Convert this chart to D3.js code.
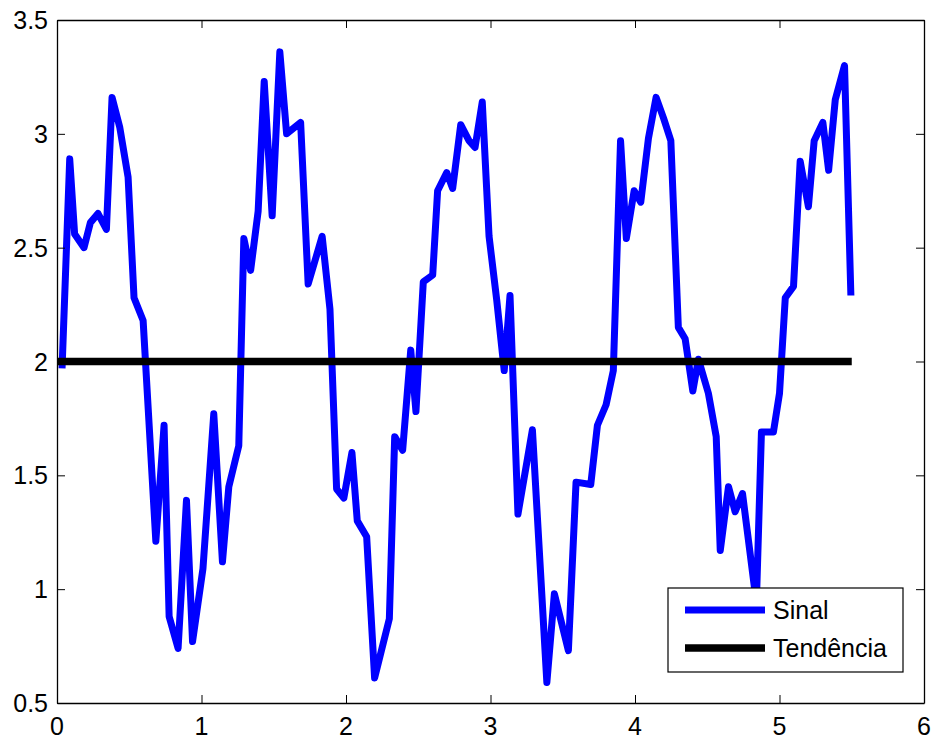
<!DOCTYPE html>
<html>
<head>
<meta charset="utf-8">
<script src="https://cdnjs.cloudflare.com/ajax/libs/d3/7.8.5/d3.min.js"></script>
<style>
    body { margin: 0; background: #fff; }
    svg { display: block; font-family: "Liberation Sans", Arial, sans-serif; }
    .tickLabel { font-size: 25px; fill: #000; }
    .legendText { font-size: 25px; fill: #000; }
</style>
</head>
<body>
<div id="chart"></div>
<script>
    "use strict";

    // signal samples
    var sinalX = [0.035, 0.088, 0.122, 0.187, 0.231, 0.284, 0.342, 0.381, 0.434, 0.492,
        0.533, 0.596, 0.684, 0.741, 0.776, 0.838, 0.896, 0.938, 1.01, 1.085,
        1.145, 1.189, 1.258, 1.293, 1.34, 1.392, 1.434, 1.489, 1.542, 1.589,
        1.686, 1.738, 1.835, 1.889, 1.935, 1.985, 2.041, 2.078, 2.143, 2.198,
        2.30, 2.337, 2.392, 2.448, 2.484, 2.535, 2.60, 2.634, 2.697, 2.738,
        2.794, 2.851, 2.893, 2.943, 2.99, 3.043, 3.095, 3.135, 3.19, 3.29,
        3.39, 3.442, 3.539, 3.592, 3.694, 3.74, 3.80, 3.85, 3.90, 3.94,
        3.994, 4.04, 4.093, 4.146, 4.197, 4.248, 4.30, 4.347, 4.40, 4.439,
        4.508, 4.562, 4.59, 4.647, 4.693, 4.744, 4.84, 4.875, 4.958, 5.0,
        5.04, 5.097, 5.143, 5.20, 5.24, 5.30, 5.34, 5.386, 5.45, 5.494];
    var sinalY = [1.97, 2.89, 2.56, 2.50, 2.61, 2.65, 2.58, 3.16, 3.03, 2.81,
        2.28, 2.18, 1.21, 1.72, 0.88, 0.74, 1.39, 0.77, 1.09, 1.77,
        1.12, 1.45, 1.63, 2.54, 2.40, 2.66, 3.23, 2.64, 3.36, 3.00,
        3.05, 2.34, 2.55, 2.23, 1.44, 1.40, 1.60, 1.30, 1.23, 0.61,
        0.87, 1.67, 1.61, 2.05, 1.78, 2.35, 2.38, 2.75, 2.83, 2.76,
        3.04, 2.97, 2.94, 3.14, 2.55, 2.27, 1.96, 2.29, 1.33, 1.70,
        0.59, 0.98, 0.73, 1.47, 1.46, 1.72, 1.81, 1.96, 2.97, 2.54,
        2.75, 2.70, 2.98, 3.16, 3.07, 2.97, 2.15, 2.10, 1.87, 2.01,
        1.86, 1.67, 1.17, 1.45, 1.34, 1.42, 0.94, 1.69, 1.69, 1.86,
        2.28, 2.33, 2.88, 2.68, 2.97, 3.05, 2.84, 3.15, 3.30, 2.29];

    var tendenciaX = [0, 5.5];
    var tendenciaY = [2, 2];

    var xTicks = [0, 1, 2, 3, 4, 5, 6];
    var yTicks = [0.5, 1, 1.5, 2, 2.5, 3, 3.5];
    var legendLabels = ["Sinal", "Tendência"];

    var width = 937;
    var height = 743;
    var marginLeft = 57, marginRight = 924, marginTop = 20, marginBottom = 703;
    var tickLen = 8;

    var x = d3.scaleLinear().domain([0, 6]).range([marginLeft, marginRight]);
    var y = d3.scaleLinear().domain([0.5, 3.5]).range([marginBottom, marginTop]);

    var svg = d3.select("#chart").append("svg")
        .attr("width", width)
        .attr("height", height);

    svg.append("defs").append("clipPath")
        .attr("id", "plotClip")
        .append("rect")
        .attr("x", marginLeft).attr("y", marginTop)
        .attr("width", marginRight - marginLeft).attr("height", marginBottom - marginTop);

    var sinal = sinalX.map(function (d, i) { return [d, sinalY[i]]; });
    var tendencia = tendenciaX.map(function (d, i) { return [d, tendenciaY[i]]; });

    var line = d3.line()
        .x(function (d) { return x(d[0]); })
        .y(function (d) { return y(d[1]); });

    var plot = svg.append("g").attr("clip-path", "url(#plotClip)");

    plot.append("path")
        .datum(sinal)
        .attr("d", line)
        .attr("fill", "none")
        .attr("stroke", "#0000ff")
        .attr("stroke-width", 7)
        .attr("stroke-linejoin", "round");

    plot.append("path")
        .datum(tendencia)
        .attr("d", line)
        .attr("fill", "none")
        .attr("stroke", "#000")
        .attr("stroke-width", 7.5);

    // axes box with inward ticks on every side
    var axisBottom = d3.axisBottom(x).tickValues(xTicks).tickSizeInner(-tickLen).tickSizeOuter(0).tickFormat("");
    var axisTop = d3.axisTop(x).tickValues(xTicks).tickSizeInner(-tickLen).tickSizeOuter(0).tickFormat("");
    var axisLeft = d3.axisLeft(y).tickValues(yTicks).tickSizeInner(-tickLen).tickSizeOuter(0).tickFormat("");
    var axisRight = d3.axisRight(y).tickValues(yTicks).tickSizeInner(-tickLen).tickSizeOuter(0).tickFormat("");

    svg.append("g").attr("transform", "translate(0," + marginBottom + ")").call(axisBottom);
    svg.append("g").attr("transform", "translate(0," + marginTop + ")").call(axisTop);
    svg.append("g").attr("transform", "translate(" + marginLeft + ",0)").call(axisLeft);
    svg.append("g").attr("transform", "translate(" + marginRight + ",0)").call(axisRight);

    svg.selectAll(".domain").attr("stroke", "#000").attr("stroke-width", 1.3);
    svg.selectAll(".tick line").attr("stroke", "#000").attr("stroke-width", 1);

    svg.selectAll(".xLabel")
        .data(xTicks)
        .enter()
        .append("text")
        .attr("class", "tickLabel")
        .attr("x", function (d) { return x(d); })
        .attr("y", marginBottom + 32)
        .attr("text-anchor", "middle")
        .text(function (d) { return d; });

    svg.selectAll(".yLabel")
        .data(yTicks)
        .enter()
        .append("text")
        .attr("class", "tickLabel")
        .attr("x", marginLeft - 9)
        .attr("y", function (d) { return y(d) + 9; })
        .attr("text-anchor", "end")
        .text(function (d) { return d; });

    // legend
    var legend = svg.append("g").attr("transform", "translate(668,588)");
    legend.append("rect")
        .attr("width", 235)
        .attr("height", 84)
        .attr("fill", "#fff")
        .attr("stroke", "#000")
        .attr("stroke-width", 1.2);

    var legendColors = ["#0000ff", "#000"];
    legendLabels.forEach(function (label, i) {
        var ly = 22 + i * 38;
        legend.append("line")
            .attr("x1", 17).attr("x2", 97)
            .attr("y1", ly).attr("y2", ly)
            .attr("stroke", legendColors[i])
            .attr("stroke-width", i === 0 ? 7 : 7.5);
        legend.append("text")
            .attr("class", "legendText")
            .attr("x", 105)
            .attr("y", ly + 9)
            .text(label);
    });
</script>
</body>
</html>
